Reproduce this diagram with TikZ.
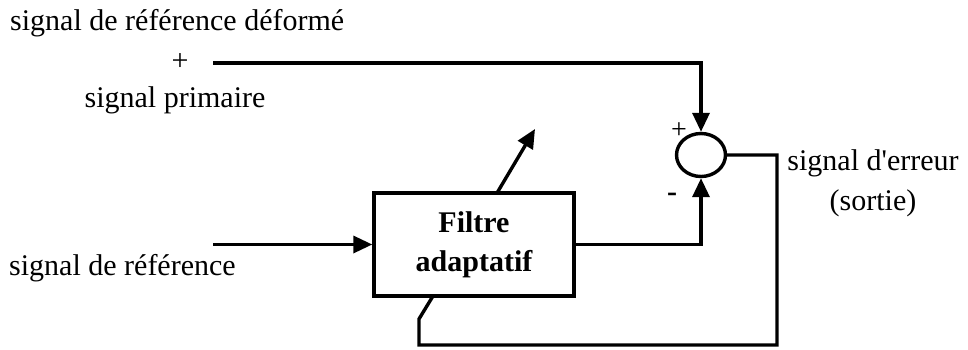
\documentclass[tikz,border=0pt]{standalone}
\usepackage{fontspec}
\setmainfont{Liberation Serif}[Ligatures=TeXOff]
\usetikzlibrary{arrows.meta,shapes.geometric}
\begin{document}
\begin{tikzpicture}[x=1pt,y=-1pt,
  wire/.style={line width=3.4pt},
  arr/.style={wire,-{Triangle[length=19pt,width=17pt]}},
  lbl/.style={font=\fontsize{30}{40}\selectfont,inner sep=0pt},
  sumnode/.style={draw,ellipse,line width=3.4pt,minimum width=49pt,minimum height=43pt,inner sep=0pt},
  filterbox/.style={draw,line width=3.4pt,minimum width=200pt,minimum height=103pt,align=center,font=\fontsize{30}{39}\selectfont\bfseries}]
\useasboundingbox (0,0) rectangle (968,350);
\node[filterbox] (F) at (474,244.5) {Filtre\\adaptatif};
\node[sumnode] (S) at (701,155) {};
\node[lbl,anchor=west] (t1) at (10,23) {signal de référence déformé};
\node[lbl] (plus0) at (180,62) {+};
\node[lbl] (t2) at (175,100) {signal primaire};
\node[lbl,anchor=west] (t3) at (9,268) {signal de référence};
\node[lbl,align=center] (t4) at (873,183) {signal d'erreur\\(sortie)};
\node[lbl,font=\fontsize{28}{30}\selectfont] (pp) at (679,131) {+};
\node[lbl,font=\fontsize{30}{30}\selectfont\bfseries] (mm) at (672,197) {-};
\coordinate (a0) at (213,63);
\coordinate (a1) at (701,63);
\coordinate (b0) at (213,244);
\coordinate (c1) at (701,244);
\coordinate (d1) at (777,155);
\coordinate (d2) at (777,345);
\coordinate (d3) at (419,345);
\coordinate (d4) at (419,319);
\coordinate (d5) at (433,296);
\coordinate (e0) at (497,193);
\coordinate (e1) at (535,129);
\draw[arr] (a0) -- (a1) -- (S.north);
\draw[arr] (F.west -| b0) -- (F.west);
\draw[arr] (F.east) -- (F.east -| c1) -- (S.south);
\draw[wire,line join=miter] (S.east) -- (d1) -- (d2) -- (d3) -- (d4) -- (d5);
\draw[arr] (e0) -- (e1);
\end{tikzpicture}
\end{document}
